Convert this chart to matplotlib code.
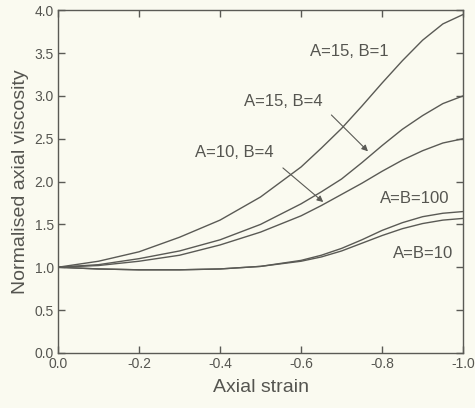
import matplotlib
matplotlib.use('Agg')
import matplotlib.pyplot as plt

# Data.
strain = [0.0, -0.1, -0.2, -0.3, -0.4, -0.5, -0.6, -0.65, -0.7, -0.75, -0.8, -0.85, -0.9, -0.95, -1.0]
visc_a15_b1 = [1.0, 1.07, 1.18, 1.35, 1.55, 1.82, 2.17, 2.39, 2.62, 2.88, 3.15, 3.41, 3.65, 3.84, 3.95]
visc_a15_b4 = [1.0, 1.03, 1.10, 1.19, 1.32, 1.50, 1.74, 1.88, 2.03, 2.22, 2.42, 2.61, 2.77, 2.91, 3.0]
visc_a10_b4 = [1.0, 1.02, 1.07, 1.14, 1.26, 1.41, 1.60, 1.72, 1.85, 1.98, 2.12, 2.25, 2.36, 2.45, 2.5]
visc_ab100 = [1.0, 0.98, 0.97, 0.97, 0.98, 1.01, 1.08, 1.14, 1.22, 1.32, 1.43, 1.52, 1.59, 1.63, 1.65]
visc_ab10 = [1.0, 0.98, 0.97, 0.97, 0.98, 1.01, 1.07, 1.12, 1.19, 1.28, 1.37, 1.45, 1.51, 1.55, 1.57]
x_ticks = [0.0, -0.2, -0.4, -0.6, -0.8, -1.0]
y_ticks = [0.0, 0.5, 1.0, 1.5, 2.0, 2.5, 3.0, 3.5, 4.0]

plt.rcParams['font.family'] = ['Liberation Sans', 'DejaVu Sans']
plt.rcParams['axes.unicode_minus'] = False

bg = '#fafaf0'
ink = '#5a5a55'
txt = '#555550'

fig = plt.figure(figsize=(4.75, 4.08), dpi=100, facecolor=bg)
ax = fig.add_axes([0.122, 0.135, 0.853, 0.84], facecolor=bg)

for ys in [visc_a15_b1, visc_a15_b4, visc_a10_b4, visc_ab100, visc_ab10]:
    ax.plot(strain, ys, color=ink, lw=1.0)

ax.set_xlim(0.0, -1.0)
ax.set_ylim(0.0, 4.0)
ax.set_xticks(x_ticks)
ax.set_xticklabels(['%.1f' % v for v in x_ticks])
ax.set_yticks(y_ticks)
ax.set_yticklabels(['%.1f' % v for v in y_ticks])
ax.tick_params(direction='in', length=5, width=1, color=ink, labelcolor=txt,
               labelsize=10, top=True, right=True, pad=3)
for sp in ax.spines.values():
    sp.set_color(ink)
    sp.set_linewidth(1.0)

ax.set_xlabel('Axial strain', fontsize=14, color=txt, labelpad=6)
ax.set_ylabel('Normalised axial viscosity', fontsize=14, color=txt, labelpad=4)

fs = 12
ax.text(-0.72, 3.52, 'A=15, B=1', fontsize=fs, color=txt, ha='center', va='center')
ax.text(-0.555, 2.93, 'A=15, B=4', fontsize=fs, color=txt, ha='center', va='center')
ax.text(-0.435, 2.34, 'A=10, B=4', fontsize=fs, color=txt, ha='center', va='center')
ax.text(-0.88, 1.80, 'A=B=100', fontsize=fs, color=txt, ha='center', va='center')
ax.text(-0.90, 1.16, 'A=B=10', fontsize=fs, color=txt, ha='center', va='center')

arrow = dict(arrowstyle='-|>', color=ink, lw=0.8, mutation_scale=9)
ax.annotate('', xy=(-0.77, 2.33), xytext=(-0.67, 2.80), arrowprops=arrow)
ax.annotate('', xy=(-0.66, 1.74), xytext=(-0.55, 2.18), arrowprops=arrow)

plt.savefig('out.png', dpi=100, facecolor=bg)
